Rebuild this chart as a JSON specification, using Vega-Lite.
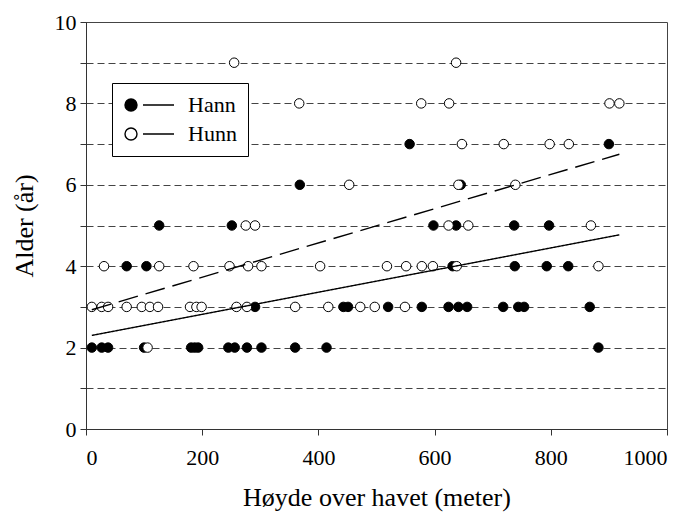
{
  "$schema": "https://vega.github.io/schema/vega-lite/v6.json",
  "width": 581,
  "height": 407,
  "autosize": {"type": "none"},
  "padding": {"left": 86, "top": 22, "right": 31, "bottom": 85},
  "background": "white",
  "config": {
    "font": "Liberation Serif",
    "view": {"stroke": "#444", "strokeWidth": 1},
    "axis": {
      "domainColor": "#333",
      "tickColor": "#333",
      "tickSize": 6,
      "labelColor": "#000000",
      "labelFont": "Liberation Serif",
      "labelFontSize": 22,
      "titleColor": "#000000",
      "titleFont": "Liberation Serif",
      "titleFontSize": 26,
      "titleFontWeight": "normal"
    }
  },
  "datasets": {
    "fisk": [
      {"kjonn": "Hann", "hoyde": 10, "alder": 2},
      {"kjonn": "Hann", "hoyde": 27, "alder": 2},
      {"kjonn": "Hann", "hoyde": 38, "alder": 2},
      {"kjonn": "Hann", "hoyde": 100, "alder": 2},
      {"kjonn": "Hann", "hoyde": 181, "alder": 2},
      {"kjonn": "Hann", "hoyde": 187, "alder": 2},
      {"kjonn": "Hann", "hoyde": 193, "alder": 2},
      {"kjonn": "Hann", "hoyde": 245, "alder": 2},
      {"kjonn": "Hann", "hoyde": 256, "alder": 2},
      {"kjonn": "Hann", "hoyde": 277, "alder": 2},
      {"kjonn": "Hann", "hoyde": 302, "alder": 2},
      {"kjonn": "Hann", "hoyde": 360, "alder": 2},
      {"kjonn": "Hann", "hoyde": 414, "alder": 2},
      {"kjonn": "Hann", "hoyde": 882, "alder": 2},
      {"kjonn": "Hann", "hoyde": 291, "alder": 3},
      {"kjonn": "Hann", "hoyde": 443, "alder": 3},
      {"kjonn": "Hann", "hoyde": 451, "alder": 3},
      {"kjonn": "Hann", "hoyde": 520, "alder": 3},
      {"kjonn": "Hann", "hoyde": 578, "alder": 3},
      {"kjonn": "Hann", "hoyde": 624, "alder": 3},
      {"kjonn": "Hann", "hoyde": 641, "alder": 3},
      {"kjonn": "Hann", "hoyde": 656, "alder": 3},
      {"kjonn": "Hann", "hoyde": 718, "alder": 3},
      {"kjonn": "Hann", "hoyde": 744, "alder": 3},
      {"kjonn": "Hann", "hoyde": 754, "alder": 3},
      {"kjonn": "Hann", "hoyde": 867, "alder": 3},
      {"kjonn": "Hann", "hoyde": 70, "alder": 4},
      {"kjonn": "Hann", "hoyde": 104, "alder": 4},
      {"kjonn": "Hann", "hoyde": 631, "alder": 4},
      {"kjonn": "Hann", "hoyde": 738, "alder": 4},
      {"kjonn": "Hann", "hoyde": 793, "alder": 4},
      {"kjonn": "Hann", "hoyde": 830, "alder": 4},
      {"kjonn": "Hann", "hoyde": 126, "alder": 5},
      {"kjonn": "Hann", "hoyde": 251, "alder": 5},
      {"kjonn": "Hann", "hoyde": 598, "alder": 5},
      {"kjonn": "Hann", "hoyde": 637, "alder": 5},
      {"kjonn": "Hann", "hoyde": 737, "alder": 5},
      {"kjonn": "Hann", "hoyde": 797, "alder": 5},
      {"kjonn": "Hann", "hoyde": 368, "alder": 6},
      {"kjonn": "Hann", "hoyde": 645, "alder": 6},
      {"kjonn": "Hann", "hoyde": 557, "alder": 7},
      {"kjonn": "Hann", "hoyde": 900, "alder": 7},
      {"kjonn": "Hunn", "hoyde": 106, "alder": 2},
      {"kjonn": "Hunn", "hoyde": 10, "alder": 3},
      {"kjonn": "Hunn", "hoyde": 27, "alder": 3},
      {"kjonn": "Hunn", "hoyde": 38, "alder": 3},
      {"kjonn": "Hunn", "hoyde": 70, "alder": 3},
      {"kjonn": "Hunn", "hoyde": 96, "alder": 3},
      {"kjonn": "Hunn", "hoyde": 110, "alder": 3},
      {"kjonn": "Hunn", "hoyde": 124, "alder": 3},
      {"kjonn": "Hunn", "hoyde": 179, "alder": 3},
      {"kjonn": "Hunn", "hoyde": 190, "alder": 3},
      {"kjonn": "Hunn", "hoyde": 199, "alder": 3},
      {"kjonn": "Hunn", "hoyde": 259, "alder": 3},
      {"kjonn": "Hunn", "hoyde": 277, "alder": 3},
      {"kjonn": "Hunn", "hoyde": 360, "alder": 3},
      {"kjonn": "Hunn", "hoyde": 417, "alder": 3},
      {"kjonn": "Hunn", "hoyde": 472, "alder": 3},
      {"kjonn": "Hunn", "hoyde": 497, "alder": 3},
      {"kjonn": "Hunn", "hoyde": 549, "alder": 3},
      {"kjonn": "Hunn", "hoyde": 31, "alder": 4},
      {"kjonn": "Hunn", "hoyde": 126, "alder": 4},
      {"kjonn": "Hunn", "hoyde": 185, "alder": 4},
      {"kjonn": "Hunn", "hoyde": 247, "alder": 4},
      {"kjonn": "Hunn", "hoyde": 279, "alder": 4},
      {"kjonn": "Hunn", "hoyde": 302, "alder": 4},
      {"kjonn": "Hunn", "hoyde": 403, "alder": 4},
      {"kjonn": "Hunn", "hoyde": 518, "alder": 4},
      {"kjonn": "Hunn", "hoyde": 551, "alder": 4},
      {"kjonn": "Hunn", "hoyde": 578, "alder": 4},
      {"kjonn": "Hunn", "hoyde": 597, "alder": 4},
      {"kjonn": "Hunn", "hoyde": 638, "alder": 4},
      {"kjonn": "Hunn", "hoyde": 882, "alder": 4},
      {"kjonn": "Hunn", "hoyde": 275, "alder": 5},
      {"kjonn": "Hunn", "hoyde": 291, "alder": 5},
      {"kjonn": "Hunn", "hoyde": 624, "alder": 5},
      {"kjonn": "Hunn", "hoyde": 658, "alder": 5},
      {"kjonn": "Hunn", "hoyde": 869, "alder": 5},
      {"kjonn": "Hunn", "hoyde": 453, "alder": 6},
      {"kjonn": "Hunn", "hoyde": 641, "alder": 6},
      {"kjonn": "Hunn", "hoyde": 739, "alder": 6},
      {"kjonn": "Hunn", "hoyde": 647, "alder": 7},
      {"kjonn": "Hunn", "hoyde": 719, "alder": 7},
      {"kjonn": "Hunn", "hoyde": 798, "alder": 7},
      {"kjonn": "Hunn", "hoyde": 831, "alder": 7},
      {"kjonn": "Hunn", "hoyde": 367, "alder": 8},
      {"kjonn": "Hunn", "hoyde": 577, "alder": 8},
      {"kjonn": "Hunn", "hoyde": 625, "alder": 8},
      {"kjonn": "Hunn", "hoyde": 901, "alder": 8},
      {"kjonn": "Hunn", "hoyde": 918, "alder": 8},
      {"kjonn": "Hunn", "hoyde": 255, "alder": 9},
      {"kjonn": "Hunn", "hoyde": 637, "alder": 9}
    ],
    "trend": [
      {"kurve": "hann-trend", "hoyde": 10, "alder": 2.3},
      {"kurve": "hann-trend", "hoyde": 918, "alder": 4.77},
      {"kurve": "hunn-trend", "hoyde": 10, "alder": 2.93},
      {"kurve": "hunn-trend", "hoyde": 918, "alder": 6.75}
    ]
  },
  "layer": [
    {
      "data": {"name": "fisk"},
      "mark": {"type": "circle", "size": 90, "stroke": "black", "strokeWidth": 1, "opacity": 1},
      "encoding": {
        "x": {
          "field": "hoyde",
          "type": "quantitative",
          "title": "Høyde over havet (meter)",
          "scale": {"domain": [0, 1000], "nice": false},
          "axis": {
            "values": [0, 200, 400, 600, 800, 1000],
            "format": "d",
            "grid": false,
            "labelPadding": 12,
            "titlePadding": 16,
            "titleColor": "#000000"
          }
        },
        "y": {
          "field": "alder",
          "type": "quantitative",
          "title": "Alder (år)",
          "scale": {"domain": [0, 10], "nice": false},
          "axis": {
            "values": [0, 1, 2, 3, 4, 5, 6, 7, 8, 9, 10],
            "format": "d",
            "labelExpr": "datum.value % 2 === 0 ? datum.label : ''",
            "grid": true,
            "gridDash": [7, 4],
            "gridColor": "#444",
            "gridWidth": 1,
            "labelPadding": 4,
            "titlePadding": 17,
            "titleColor": "#000000"
          }
        },
        "fill": {
          "field": "kjonn",
          "type": "nominal",
          "scale": {"domain": ["Hann", "Hunn"], "range": ["black", "white"]},
          "legend": {
            "orient": "none",
            "legendX": 26,
            "legendY": 61,
            "title": null,
            "strokeColor": "black",
            "fillColor": "white",
            "padding": 11,
            "symbolType": "M -0.9 0 A 0.6 0.6 0 0 1 -0.3 -0.6 A 0.6 0.6 0 0 1 0.3 0 A 0.6 0.6 0 0 1 -0.3 0.6 A 0.6 0.6 0 0 1 -0.9 0 Z M 0.9 0 L 4 0",
            "symbolSize": 400,
            "symbolStrokeColor": "black",
            "symbolStrokeWidth": 1.4,
            "symbolOpacity": 1,
            "labelFont": "Liberation Serif",
            "labelFontSize": 22,
            "labelColor": "black",
            "labelOffset": 43,
            "rowPadding": 7
          }
        }
      }
    },
    {
      "data": {"name": "trend"},
      "mark": {"type": "line", "color": "black", "strokeWidth": 1.4},
      "encoding": {
        "x": {"field": "hoyde", "type": "quantitative"},
        "y": {"field": "alder", "type": "quantitative"},
        "strokeDash": {
          "field": "kurve",
          "type": "nominal",
          "scale": {"domain": ["hann-trend", "hunn-trend"], "range": [[1, 0], [20, 8]]},
          "legend": null
        }
      }
    }
  ]
}
